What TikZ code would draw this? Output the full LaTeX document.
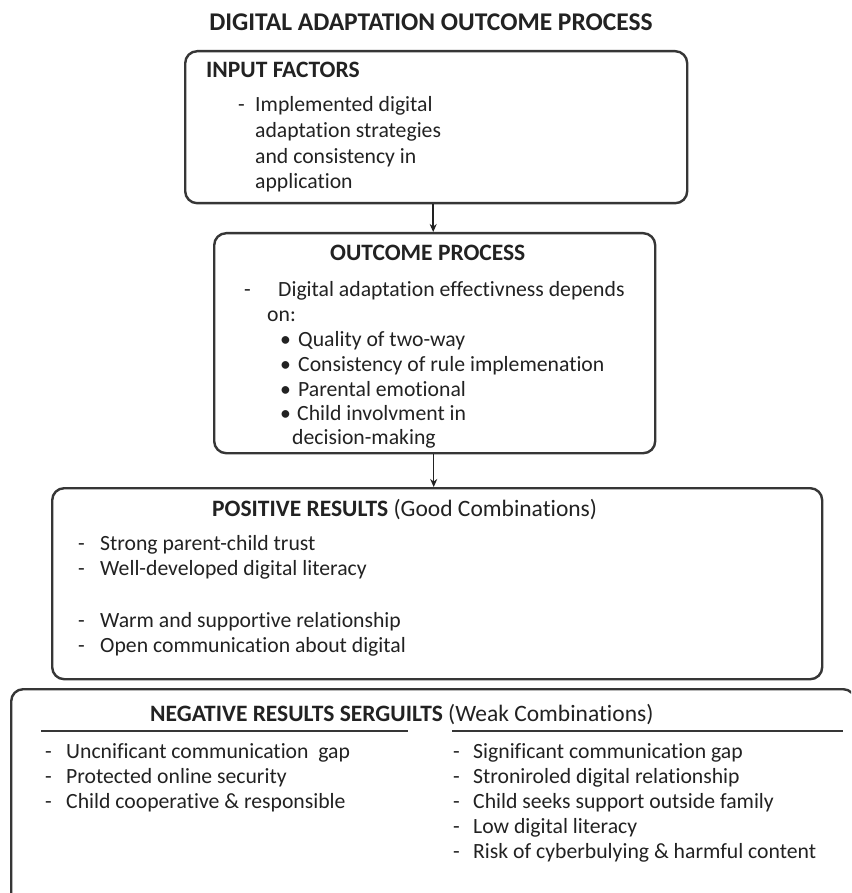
\documentclass[tikz,border=0pt]{standalone}
\usepackage{fontspec}
\setmainfont{Carlito}[Ligatures=NoCommon]
\usetikzlibrary{arrows.meta}
\definecolor{ink}{HTML}{222222}
\definecolor{rim}{HTML}{363636}
\begin{document}
\begin{tikzpicture}[x=1pt,y=-1pt,
  panel/.style={draw=rim, line width=2.4pt, rounded corners=12pt,
    anchor=north west, inner sep=0pt, fill=white},
  body/.style={text=ink, font=\fontsize{21.7}{26}\selectfont,
    inner sep=0pt, anchor=base west},
  head/.style={text=ink, font=\fontsize{23.5}{28}\selectfont\bfseries,
    inner sep=0pt, anchor=base west},
  flow/.style={draw=ink, line width=1.5pt, -{Stealth[length=8pt,width=7pt]}},
  rule/.style={draw=rim, line width=2pt}]
\clip (0,0) rectangle (851,893);
\fill[white] (0,0) rectangle (851,893);

% title
\node[text=ink, font=\fontsize{25.5}{30}\selectfont\bfseries, inner sep=0pt,
  anchor=base] (title) at (431,31) {DIGITAL ADAPTATION OUTCOME PROCESS};

% panels
\node[panel, minimum width=502pt, minimum height=152pt] (inbox) at (184,50) {};
\node[panel, minimum width=441pt, minimum height=220pt] (outbox) at (213,232) {};
\node[panel, minimum width=770pt, minimum height=191pt] (posbox) at (51,487) {};
\node[panel, minimum width=844pt, minimum height=240pt] (negbox) at (10,688) {};

% connectors
\draw[flow] ([xshift=-3pt]inbox.south) -- ([xshift=-3pt]inbox.south |- outbox.north);
\draw[flow] ([xshift=-1pt]outbox.south) -- ([xshift=-1pt]outbox.south |- posbox.north);

% input factors
\node[head] (inhead) at (206,78) {INPUT FACTORS};
\node[body] (indash) at (238,112) {-};
\node[body] (in1) at (255,112) {Implemented digital};
\node[body] (in2) at (255,138) {adaptation strategies};
\node[body] (in3) at (255,164) {and consistency in};
\node[body] (in4) at (255,189) {application};

% outcome process
\node[head] (outhead) at (330,260) {OUTCOME PROCESS};
\node[body] (outdash) at (244,296) {-};
\node[body] (out1) at (278,296) {Digital adaptation effectivness depends};
\node[body] (out2) at (267,321) {on:};
\node[body] (b1) at (280,346) {•};
\node[body] (o1) at (298,346) {Quality of two-way};
\node[body] (b2) at (280,371) {•};
\node[body] (o2) at (298,371) {Consistency of rule implemenation};
\node[body] (b3) at (280,396) {•};
\node[body] (o3) at (298,396) {Parental emotional};
\node[body] (b4) at (280,420) {•};
\node[body] (o4) at (297,420) {Child involvment in};
\node[body] (o5) at (292,444) {decision-making};

% positive results
\node[head] (poshead) at (212,516) {POSITIVE RESULTS \mdseries(Good Combinations)};
\foreach \y/\t [count=\i] in {550/Strong parent-child trust,
    575/Well-developed digital literacy,
    627/Warm and supportive relationship,
    652/Open communication about digital}{
  \node[body] (pd\i) at (78,\y) {-};
  \node[body] (p\i) at (100,\y) {\t};
}

% negative results
\node[head] (neghead) at (150,721) {NEGATIVE RESULTS SERGUILTS \mdseries(Weak Combinations)};
\draw[rule] (41,731) -- (408,731);
\draw[rule] (452,731) -- (843,731);
\foreach \y/\t [count=\i] in {758/Uncnificant communication\ \ gap,
    783/Protected online security,
    808/Child cooperative \& responsible}{
  \node[body] (ld\i) at (45,\y) {-};
  \node[body] (l\i) at (66,\y) {\t};
}
\foreach \y/\t [count=\i] in {758/Significant communication gap,
    783/Stroniroled digital relationship,
    808/Child seeks support outside family,
    833/Low digital literacy,
    858/Risk of cyberbulying \& harmful content}{
  \node[body] (rd\i) at (453,\y) {-};
  \node[body] (r\i) at (473,\y) {\t};
}
\end{tikzpicture}
\end{document}
